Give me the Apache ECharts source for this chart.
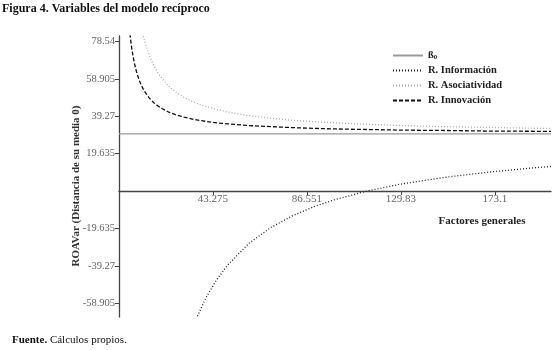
<!DOCTYPE html>
<html>
<head>
<meta charset="utf-8">
<script src="https://cdn.jsdelivr.net/npm/echarts@6/dist/echarts.min.js"></script>
<style>
  html, body { margin: 0; padding: 0; background: #fff; }
  #chart { width: 559px; height: 350px; }
</style>
</head>
<body>
<div id="chart"></div>
<script>
// x positions (Factores generales)
const factores = [5, 6, 7, 8, 9, 10, 11, 12, 14, 16, 18, 20, 23, 26, 30, 35, 40, 45, 50,
  60, 70, 80, 90, 100, 115, 130, 150, 170, 190, 199]
const beta0X = [0, 199]
const beta0 = [30, 30]
const rInformacion = [null, null, null, null, null, null, null, null, null, null, null, null, null, null,
  -84.9, -68.5, -56.1, -46.5, -38.9, -27.3, -19.1, -12.9, -8.1, -4.3, 0.2, 3.7, 7.2, 9.9, 12.1, 12.9]
const rAsociatividad = [null, null, null, null, null, 87.5, 82.3, 77.9, 71.1, 65.9, 61.9, 58.8, 55.0,
  52.1, 49.2, 46.4, 44.4, 42.8, 41.5, 39.6, 38.2, 37.2, 36.4, 35.8, 35.0, 34.4, 33.8, 33.4, 33.0, 32.9]
const rInnovacion = [82.6, 73.8, 67.6, 62.9, 59.2, 56.3, 53.9, 51.9, 48.8, 46.4, 44.6, 43.2, 41.4,
  40.1, 38.8, 37.5, 36.6, 35.8, 35.3, 34.4, 33.8, 33.3, 32.9, 32.6, 32.3, 32.0, 31.8, 31.5, 31.4, 31.3]

const xTicks = [43.275, 86.551, 129.83, 173.1]
const xTickLabels = ['43.275', '86.551', '129.83', '173.1']
const yTicks = [-58.905, -39.27, -19.635, 19.635, 39.27, 58.905, 78.54]
const yTickLabels = ['-58.905', '-39.27', '-19.635', '19.635', '39.27', '58.905', '78.54']

const serif = '"Liberation Serif", "DejaVu Serif", serif'
const pairs = (xs, arr) => xs.map((x, i) => [x, arr[i]])

const chart = echarts.init(document.getElementById('chart'), null, { renderer: 'canvas' })

chart.setOption({
  animation: false,
  textStyle: { fontFamily: serif },
  title: {
    text: 'Figura 4. Variables del modelo recíproco',
    left: 2, top: 3, padding: 0,
    textStyle: { fontFamily: serif, fontSize: 12, fontWeight: 'bold', color: '#111' }
  },
  grid: { left: 119, right: 8, top: 36, bottom: 33 },
  legend: {
    orient: 'vertical',
    left: 392, top: 50, padding: 0,
    itemWidth: 30, itemHeight: 10, itemGap: 4, itemStyle: { opacity: 0 },
    data: ['ß0', 'R. Información', 'R. Asociatividad', 'R. Innovación'],
    formatter: name => name === 'ß0' ? '{b|ß}{s|0}' : name,
    textStyle: {
      fontFamily: serif, fontSize: 10.5, fontWeight: 'bold', color: '#222',
      rich: {
        b: { fontFamily: serif, fontSize: 10.5, fontWeight: 'bold', color: '#222' },
        s: { fontFamily: serif, fontSize: 7, fontWeight: 'bold', color: '#222', verticalAlign: 'bottom', padding: [4, 0, 0, 0] }
      }
    }
  },
  xAxis: {
    type: 'value', min: 0, max: 199,
    offset: -126,
    axisLine: { onZero: false, lineStyle: { color: '#444', width: 1.3 } },
    splitLine: { show: false },
    axisTick: { customValues: xTicks, length: 4, lineStyle: { color: '#444' } },
    axisLabel: {
      customValues: xTicks,
      formatter: v => xTickLabels[xTicks.indexOf(v)] ?? '',
      color: '#666', fontSize: 11, fontFamily: serif, margin: 3
    }
  },
  yAxis: {
    type: 'value', min: -66.1, max: 81.4,
    axisLine: { show: true, lineStyle: { color: '#444', width: 1.3 } },
    splitLine: { show: false },
    axisTick: { show: true, customValues: yTicks, length: 4, lineStyle: { color: '#444' } },
    axisLabel: {
      customValues: yTicks,
      formatter: v => yTickLabels[yTicks.indexOf(v)] ?? '',
      color: '#666', fontSize: 10.5, fontFamily: serif, margin: 4
    }
  },
  graphic: [
    {
      type: 'text', x: 76, y: 186, rotation: Math.PI / 2,
      style: {
        text: 'ROAVar (Distancia de su media 0)', align: 'center', verticalAlign: 'middle',
        font: 'bold 11px ' + serif, fill: '#333'
      }
    },
    {
      type: 'text', x: 482, y: 221,
      style: {
        text: 'Factores generales', align: 'center', verticalAlign: 'middle',
        font: 'bold 11px ' + serif, fill: '#222'
      }
    },
    {
      type: 'text', x: 12, y: 340,
      style: {
        text: '{b|Fuente.} Cálculos propios.', verticalAlign: 'middle',
        font: '11px ' + serif, fill: '#111',
        rich: { b: { font: 'bold 11px ' + serif, fill: '#111' } }
      }
    }
  ],
  series: [
    {
      name: 'ß0', type: 'line', showSymbol: false, symbol: 'none',
      data: pairs(beta0X, beta0),
      itemStyle: { color: '#9a9a9a' },
      lineStyle: { color: '#9a9a9a', width: 1.4, type: 'solid' }
    },
    {
      name: 'R. Información', type: 'line', showSymbol: false, symbol: 'none',
      data: pairs(factores, rInformacion),
      itemStyle: { color: '#222' },
      lineStyle: { color: '#222', width: 1.3, type: [1, 2] }
    },
    {
      name: 'R. Asociatividad', type: 'line', showSymbol: false, symbol: 'none',
      data: pairs(factores, rAsociatividad),
      itemStyle: { color: '#aaa' },
      lineStyle: { color: '#aaa', width: 1.3, type: [1, 2] }
    },
    {
      name: 'R. Innovación', type: 'line', showSymbol: false, symbol: 'none',
      data: pairs(factores, rInnovacion),
      itemStyle: { color: '#111' },
      lineStyle: { color: '#111', width: 1.3, type: [4, 2] }
    }
  ]
})
</script>
</body>
</html>
